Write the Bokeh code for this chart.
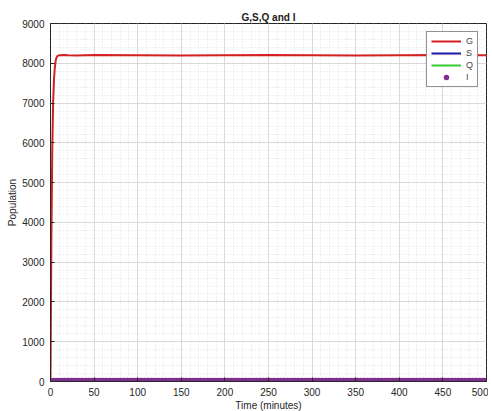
from bokeh.plotting import figure
from bokeh.models import Range1d, SingleIntervalTicker, Legend, LegendItem
from bokeh.embed import file_html
from bokeh.resources import INLINE

# Data
t_G = [0, 1, 2, 3, 4, 5, 6, 7, 8, 10, 15, 20, 30, 50, 100, 150, 200, 250, 300, 350, 400, 450, 500]
G = [0, 3500, 5800, 7000, 7600, 7900, 8080, 8150, 8185, 8200, 8205, 8200, 8195, 8205, 8200, 8195, 8200, 8205, 8200, 8195, 8200, 8205, 8200]
t_SQ = [0, 100, 200, 300, 400, 500]
S = [0, 0, 0, 0, 0, 0]
Q = [0, 0, 0, 0, 0, 0]
t_I = list(range(0, 501, 4))
I = [0 for _ in t_I]

FONT = "Liberation Sans"

p = figure(frame_width=436, frame_height=358, output_backend="svg", toolbar_location=None,
           x_range=Range1d(0, 500), y_range=Range1d(0, 9000),
           min_border_left=50, min_border_right=2, min_border_top=23, min_border_bottom=0,
           title="G,S,Q and I")
p.title.align = "center"
p.title.text_font = FONT
p.title.text_font_size = "10px"
p.title.text_font_style = "bold"
p.title.text_color = "#222222"
p.title.standoff = 2

p.xaxis.ticker = SingleIntervalTicker(interval=50, num_minor_ticks=5)
p.yaxis.ticker = SingleIntervalTicker(interval=1000, num_minor_ticks=5)
for ax in (p.xaxis, p.yaxis):
    ax.major_label_text_font = FONT
    ax.major_label_text_font_size = "10px"
    ax.major_label_text_color = "#262626"
    ax.axis_label_text_font = FONT
    ax.axis_label_text_font_size = "10px"
    ax.axis_label_text_font_style = "normal"
    ax.axis_label_text_color = "#262626"
    ax.axis_line_color = "#262626"
    ax.major_tick_line_color = "#262626"
    ax.major_tick_in = 4
    ax.major_tick_out = 0
    ax.minor_tick_line_color = None
    ax.major_label_standoff = 2
    ax.axis_label_standoff = 1
p.xaxis.axis_label = "Time (minutes)"
p.yaxis.axis_label = "Population"

p.xgrid.grid_line_color = "#d9d9d9"
p.ygrid.grid_line_color = "#d9d9d9"
p.xgrid.minor_grid_line_color = "#e0e0e0"
p.ygrid.minor_grid_line_color = "#e0e0e0"
p.xgrid.minor_grid_line_dash = "1 2"
p.ygrid.minor_grid_line_dash = "1 2"
p.outline_line_color = "#262626"
p.outline_line_width = 1

rG = p.line(t_G, G, line_color="#d42020", line_width=2)
rS = p.line(t_SQ, S, line_color="#1a1aa6", line_width=2)
rQ = p.line(t_SQ, Q, line_color="#33cc33", line_width=2)
rI = p.scatter(t_I, I, marker="circle", size=6, fill_color="#7e2f8e",
               line_color="#7e2f8e", line_width=1.5)

legend = Legend(items=[LegendItem(label="G", renderers=[rG]),
                       LegendItem(label="S", renderers=[rS]),
                       LegendItem(label="Q", renderers=[rQ]),
                       LegendItem(label="I", renderers=[rI])],
                location="top_right")
legend.label_text_font = FONT
legend.label_text_font_size = "9px"
legend.label_standoff = 5
legend.label_width = 6
legend.glyph_width = 30
legend.glyph_height = 10
legend.spacing = 2
legend.padding = 4
legend.margin = 8
legend.border_line_color = "#262626"
legend.label_height = 10
p.add_layout(legend)

open("out.html", "w").write(file_html(p, INLINE))
